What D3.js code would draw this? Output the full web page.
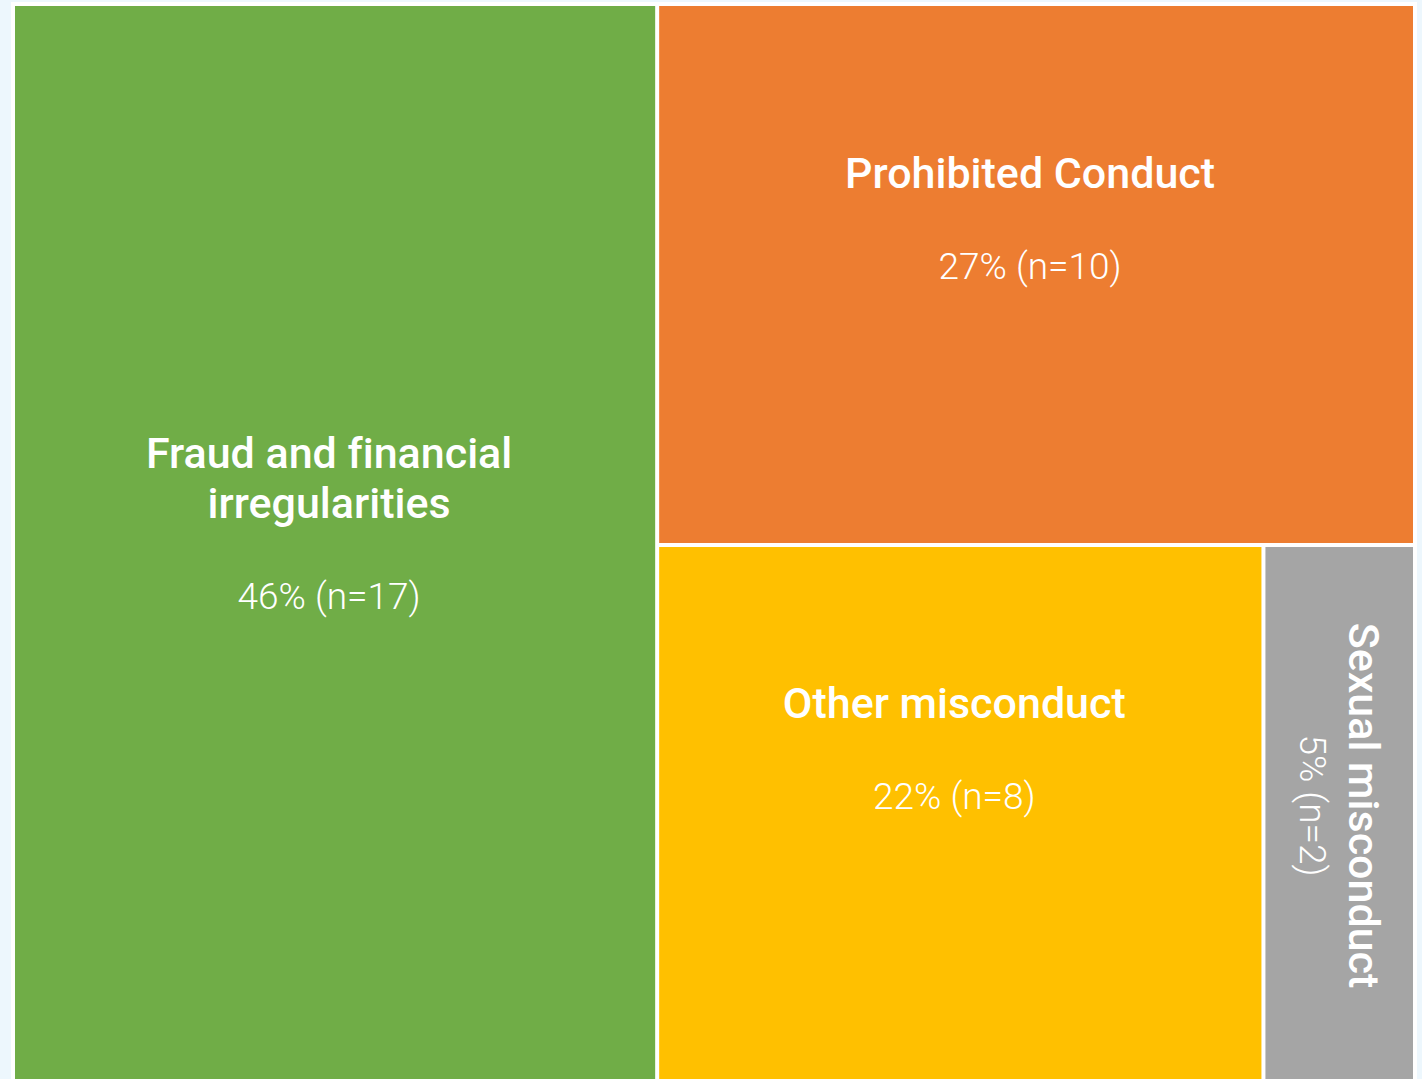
<!DOCTYPE html>
<html>
<head>
<meta charset="utf-8">
<script src="https://cdn.jsdelivr.net/npm/d3@7"></script>
<style>
  html, body { margin: 0; padding: 0; background: #edf7fd; }
  svg { display: block; }
  text { font-family: Roboto, "Noto Sans", sans-serif; fill: #fff; font-variant-ligatures: none; }
  .label { font-weight: 500; font-size: 43px; }
  .value { font-weight: 300; font-size: 37px; }
</style>
</head>
<body>
<svg width="1422" height="1079"></svg>
<script>
// data
const categories = ["Fraud and financial irregularities", "Prohibited Conduct", "Other misconduct", "Sexual misconduct"];
const counts = [17, 10, 8, 2];
const percents = [46, 27, 22, 5];
const colors = ["#70ad47", "#ed7d31", "#ffc000", "#a5a5a5"];

const svg = d3.select("svg");
const W = 1398, H = 1078;
const ox = 15, oy = 6;

// white frame behind the cells
svg.append("rect")
    .attr("x", ox - 4).attr("y", oy - 4)
    .attr("width", W + 8).attr("height", H + 8)
    .attr("fill", "#fff");

const root = d3.hierarchy({
        children: categories.map((c, i) => ({ name: c, value: counts[i], pct: percents[i], color: colors[i] }))
    })
    .sum(d => d.value)
    .sort((a, b) => b.value - a.value);

d3.treemap()
    .tile(d3.treemapBinary)
    .size([W, H])
    .paddingInner(4)(root);

const g = svg.append("g").attr("transform", `translate(${ox},${oy})`);

const cell = g.selectAll("g.cell")
    .data(root.leaves())
    .enter().append("g")
    .attr("class", "cell");

cell.append("rect")
    .attr("x", d => d.x0)
    .attr("y", d => d.y0)
    .attr("width", d => d.x1 - d.x0)
    .attr("height", d => d.y1 - d.y0)
    .attr("fill", d => d.data.color);

// split label into lines that fit the cell
function wrap(text, maxWidth, tmp) {
    const words = text.split(" ");
    const lines = [];
    let line = "";
    words.forEach(w => {
        const test = line ? line + " " + w : w;
        tmp.text(test);
        if (tmp.node().getComputedTextLength() > maxWidth && line) {
            lines.push(line);
            line = w;
        } else {
            line = test;
        }
    });
    lines.push(line);
    return lines;
}

// label baseline offset from the cell top, and the gap down to the value line
const labelTop = [462, 182, 171];
const valueGap = [91, 91, 91];

cell.each(function(d, i) {
    const sel = d3.select(this);
    const w = d.x1 - d.x0, h = d.y1 - d.y0;
    const valueText = `${d.data.pct}% (n=${d.data.value})`;

    if (w < 200) {
        // narrow cell: text turned to run downwards
        const t = sel.append("g")
            .attr("transform", `translate(${(d.x0 + d.x1) / 2},${(d.y0 + d.y1) / 2 - 10}) rotate(90)`);
        t.append("text").attr("class", "label")
            .attr("text-anchor", "middle")
            .attr("y", -10)
            .text(d.data.name);
        t.append("text").attr("class", "value")
            .attr("text-anchor", "middle")
            .attr("y", 39)
            .text(valueText);
        return;
    }

    const cx = (d.x0 + d.x1) / 2 - 6;
    const tmp = sel.append("text").attr("class", "label");
    const lines = wrap(d.data.name, w * 0.8, tmp);
    tmp.remove();

    const top = d.y0 + labelTop[i];
    const lab = sel.append("text").attr("class", "label")
        .attr("text-anchor", "middle");
    lines.forEach((ln, k) => {
        lab.append("tspan")
            .attr("x", cx)
            .attr("y", top + k * 50)
            .text(ln);
    });

    sel.append("text").attr("class", "value")
        .attr("text-anchor", "middle")
        .attr("x", cx)
        .attr("y", top + (lines.length - 1) * 50 + valueGap[i])
        .text(valueText);
});
</script>
</body>
</html>
